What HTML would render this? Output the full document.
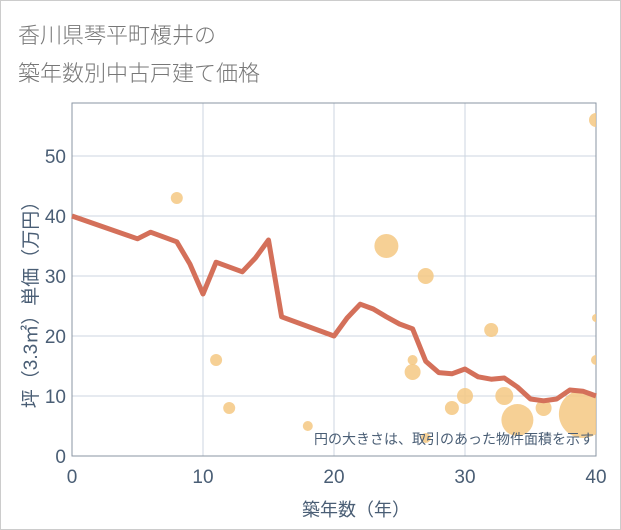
<!DOCTYPE html>
<html><head><meta charset="utf-8"><style>
body{margin:0;background:#fff;}
#wrap{position:relative;width:619px;height:528px;border:1px solid #ccc;background:#fff;font-family:"Liberation Sans","Noto Sans CJK JP",sans-serif;}
.title{position:absolute;left:17px;font-size:22px;color:#777;font-weight:300;}
</style></head><body>
<div id="wrap">
<div class="title" style="top:17px">香川県琴平町榎井の</div>
<div class="title" style="top:55px">築年数別中古戸建て価格</div>
<svg id="chart" width="621" height="530" style="position:absolute;left:-1px;top:-1px"></svg>
</div>
<script>
const xTicks=[0,10,20,30,40];
const yTicks=[0,10,20,30,40,50];
const lineX=[0,5,6,8,9,10,11,13,14,15,16,20,21,22,23,24,25,26,27,28,29,30,31,32,33,34,35,36,37,38,39,40];
const lineY=[40,36.2,37.3,35.7,32,27,32.3,30.7,33,36,23.2,20,23,25.3,24.5,23.2,22,21.2,15.8,13.9,13.7,14.5,13.2,12.8,13,11.5,9.5,9.2,9.5,11,10.8,10];
const bubX=[8,11,12,18,24,27,26,26,32,29,30,33,34,36,39,40,40,40,27];
const bubY=[43,16,8,5,35,30,16,14,21,8,10,10,6,8,7,56,23,16,3];
const bubR=[6,6,6,5,12,8,5,8,7,7,8,9,16,8,24,7,4,5,5];
const L=72,R=596,T=103,B=456;
const sx=v=>L+(v-0)/40*(R-L);
const sy=v=>B-v*6;
const svg=document.getElementById('chart');
const NS='http://www.w3.org/2000/svg';
function mk(t,a){const e=document.createElementNS(NS,t);for(const k in a)e.setAttribute(k,a[k]);svg.appendChild(e);return e;}
const defs=mk('defs',{});
const cp=document.createElementNS(NS,'clipPath');cp.setAttribute('id','clip');
const cr=document.createElementNS(NS,'rect');cr.setAttribute('x',L);cr.setAttribute('y',T);cr.setAttribute('width',R-L);cr.setAttribute('height',B-T);
cp.appendChild(cr);defs.appendChild(cp);
yTicks.forEach(v=>{
 const g=mk('line',{x1:L,x2:R,y1:sy(v),y2:sy(v),stroke:'#ccd6e0','stroke-width':1});
 
 
 const t=mk('text',{x:L-6,y:sy(v)+7,'text-anchor':'end','font-size':19,fill:'#4a5e75','font-family':'Liberation Sans, sans-serif'});
 t.textContent=v;
 
 
});
xTicks.forEach(v=>{
 const g=mk('line',{x1:sx(v),x2:sx(v),y1:T,y2:B,stroke:'#ccd6e0','stroke-width':1});
 
 
 const t=mk('text',{x:sx(v),y:B+27,'text-anchor':'middle','font-size':19,fill:'#4a5e75','font-family':'Liberation Sans, sans-serif'});
 t.textContent=v;
 
 
});
const frame=mk('path',{d:`M${L},${T}H${R}V${B}H${L}Z`,fill:'none',stroke:'#8a96a3','stroke-width':1});


const gb=mk('g',{'clip-path':'url(#clip)'});
bubX.forEach((x,i)=>{
 const c=document.createElementNS(NS,'circle');
 c.setAttribute('cx',sx(x));c.setAttribute('cy',sy(bubY[i]));c.setAttribute('r',bubR[i]);c.setAttribute('fill','#f5c882');c.setAttribute('fill-opacity','0.85');
 
 
 gb.appendChild(c);
});
const pts=lineX.map((x,i)=>sx(x)+','+sy(lineY[i])).join(' ');
const pl=mk('polyline',{points:pts,fill:'none',stroke:'#d4705a','stroke-width':5,'stroke-linejoin':'round'});


const note=mk('text',{x:R-2,y:B-12,'text-anchor':'end','font-size':14,fill:'#4a5e75','font-family':'Liberation Sans, Noto Sans CJK JP, sans-serif'});
note.textContent='円の大きさは、取引のあった物件面積を示す';


const xt=mk('text',{x:356,y:516,'text-anchor':'middle','font-size':18,fill:'#4a5e75','font-family':'Liberation Sans, Noto Sans CJK JP, sans-serif'});
xt.textContent='築年数（年）';


const yt=mk('text',{x:0,y:0,'text-anchor':'middle','font-size':19,fill:'#4a5e75','font-family':'Liberation Sans, Noto Sans CJK JP, sans-serif',transform:`translate(37,300) rotate(-90)`});
yt.textContent='坪（3.3㎡）単価（万円）';


</script>
</body></html>
